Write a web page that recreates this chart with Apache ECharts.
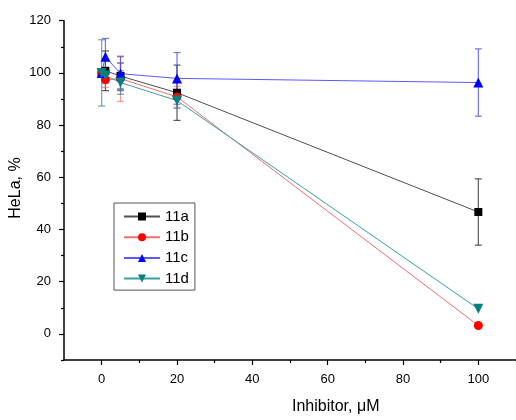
<!DOCTYPE html>
<html>
<head>
<meta charset="utf-8">
<script src="https://cdn.jsdelivr.net/npm/echarts@6/dist/echarts.min.js"></script>
<style>html,body{margin:0;padding:0;background:#fff;}#c{width:516px;height:420px;}</style>
</head>
<body>
<div id="c"></div>
<script>
const xVals = [0, 1, 5, 20, 100];
const seriesNames = ['11a', '11b', '11c', '11d'];
const vals11a = [100, 100.8, 98.8, 92.4, 46.7];
const err11a  = [1, 7.6, 5, 10.6, 12.7];
const vals11b = [100, 97.4, 97.8, 90.8, 3.2];
const err11b  = [1, 3, 8.7, 4, 0];
const vals11c = [100, 106.2, 99.7, 97.9, 96.3];
const err11c  = [1, 7, 6.5, 9.9, 12.9];
const vals11d = [100, 99, 96.3, 89.4, 9.6];
const err11d  = [12.7, 3, 4.5, 3, 0];
const xMajorTicks = [0, 20, 40, 60, 80, 100];
const xMinorTicks = [10, 30, 50, 70, 90, 110];
const yMajorTicks = [0, 20, 40, 60, 80, 100, 120];
const yMinorTicks = [-10, 10, 30, 50, 70, 90, 110];

const valsAll = [vals11a, vals11b, vals11c, vals11d];
const errAll = [err11a, err11b, err11c, err11d];
const markerColors = ['#000000', '#ff0000', '#0000ff', '#008080'];
const lineColors = ['#505050', '#f07070', '#5a5aff', '#3a9f9f'];
const errColors = ['rgba(60,60,60,0.85)', 'rgba(240,90,90,0.6)', 'rgba(70,70,230,0.75)', 'rgba(70,130,160,0.75)'];
const symbols = ['rect', 'circle', 'triangle', 'triangle'];
const symbolSizes = [8, 9, 10, 10];
const symbolRot = [0, 0, 0, 180];

const chart = echarts.init(document.getElementById('c'), null, {renderer: 'canvas'});

const series = [];
seriesNames.forEach((n, i) => {
  const data = xVals.map((x, k) => [x, valsAll[i][k] - errAll[i][k], valsAll[i][k] + errAll[i][k]]);
  series.push({
    type: 'custom',
    name: n + '_err',
    xAxisIndex: 0, yAxisIndex: 0,
    data: data.filter(d => d[2] - d[1] > 0.01),
    z: 2,
    silent: true,
    renderItem: function (params, api) {
      const x = api.value(0);
      const lo = api.coord([x, api.value(1)]);
      const hi = api.coord([x, api.value(2)]);
      const cw = 3.5;
      const st = {stroke: errColors[i], lineWidth: 1.2};
      return {
        type: 'group',
        children: [
          {type: 'line', shape: {x1: lo[0], y1: lo[1], x2: hi[0], y2: hi[1]}, style: st},
          {type: 'line', shape: {x1: lo[0] - cw, y1: lo[1], x2: lo[0] + cw, y2: lo[1]}, style: st},
          {type: 'line', shape: {x1: hi[0] - cw, y1: hi[1], x2: hi[0] + cw, y2: hi[1]}, style: st}
        ]
      };
    }
  });
});
seriesNames.forEach((n, i) => {
  series.push({
    type: 'line',
    name: n,
    xAxisIndex: 0, yAxisIndex: 0,
    data: xVals.map((x, k) => [x, valsAll[i][k]]),
    symbol: symbols[i],
    symbolSize: symbolSizes[i],
    symbolRotate: symbolRot[i],
    showAllSymbol: true,
    z: 3,
    lineStyle: {color: lineColors[i], width: 1},
    itemStyle: {color: markerColors[i], opacity: 1},
    emphasis: {disabled: true}
  });
});

const grid = {left: 64, right: 0, top: 20.7, bottom: 60, containLabel: false, outerBoundsMode: 'none'};
const fam = 'Liberation Sans, Arial, sans-serif';
const axisFont = {fontFamily: fam, fontSize: 13, color: '#000'};

function tickAxis(vals, len, extra) {
  return Object.assign({
    type: 'value', min: -10,
    axisLine: {show: false, onZero: false},
    axisTick: {show: true, inside: false, length: len, customValues: vals, lineStyle: {color: '#000', width: 1.2}},
    axisLabel: {show: false},
    splitLine: {show: false}
  }, extra);
}

chart.setOption({
  animation: false,
  backgroundColor: '#ffffff',
  grid: grid,
  legend: {
    data: seriesNames,
    orient: 'vertical',
    left: 114,
    top: 203,
    itemWidth: 36,
    itemHeight: 10,
    itemGap: 5.7,
    padding: [6, 6, 4, 9],
    borderColor: '#555',
    borderWidth: 1,
    textStyle: {fontFamily: fam, fontSize: 15, color: '#000'},
    selectedMode: false
  },
  xAxis: [{
    type: 'value', min: -10, max: 110, interval: 10, position: 'bottom',
    axisLine: {show: true, onZero: false, lineStyle: {color: '#000', width: 1.5}},
    axisTick: {show: false},
    axisLabel: {show: true, margin: 13, formatter: v => (xMajorTicks.indexOf(v) >= 0 ? String(v) : ''), ...axisFont},
    splitLine: {show: false}
  },
    tickAxis(xMajorTicks, 5, {max: 110, position: 'bottom'}),
    tickAxis(xMinorTicks, 3, {max: 110, position: 'bottom'})
  ],
  yAxis: [{
    type: 'value', min: -10, max: 120, interval: 10, position: 'left',
    axisLine: {show: true, onZero: false, lineStyle: {color: '#000', width: 1.5}},
    axisTick: {show: false},
    axisLabel: {show: true, margin: 13, formatter: v => (yMajorTicks.indexOf(v) >= 0 ? String(v) : ''), ...axisFont},
    splitLine: {show: false}
  },
    tickAxis(yMajorTicks, 5, {max: 120, position: 'left'}),
    tickAxis(yMinorTicks, 3, {max: 120, position: 'left'})
  ],
  graphic: [{
    type: 'text',
    left: 292, top: 399,
    style: {text: 'Inhibitor, μM', fontFamily: fam, fontSize: 16, fill: '#000'}
  }, {
    type: 'text',
    x: 16, y: 188,
    rotation: Math.PI / 2,
    style: {text: 'HeLa, %', fontFamily: fam, fontSize: 16, fill: '#000', align: 'center', verticalAlign: 'middle'}
  }],
  series: series
});
</script>
</body>
</html>
